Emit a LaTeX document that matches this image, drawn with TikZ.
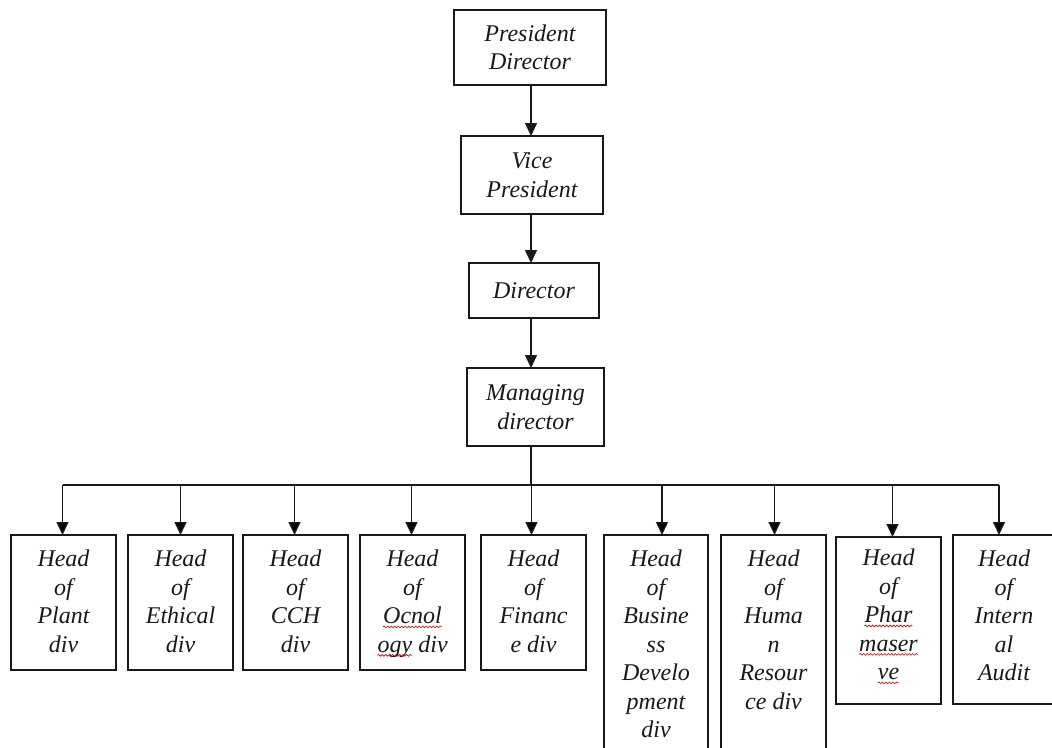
\documentclass[tikz,border=0pt]{standalone}
\usepackage{fontspec}
\setmainfont{Liberation Serif}
\usetikzlibrary{arrows.meta,calc,decorations.pathmorphing}
\newcommand\spellwave[1]{\tikz[baseline=(w.base),x=1pt,y=1pt]{\node[inner sep=0pt,outer sep=0pt,anchor=base] (w) {#1};\draw[red!80!black, line width=0.6pt, decorate, decoration={snake, amplitude=0.9pt, segment length=3.5pt}] ([yshift=-3pt]w.base west) -- ([yshift=-3pt]w.base east);}}
\begin{document}
\begin{tikzpicture}[x=1pt,y=-1pt,
  box/.style={draw=black!90, line width=1.4pt, inner sep=0pt, outer sep=0pt, anchor=north west},
  lbl/.style={font=\fontsize{24}{28.5}\selectfont\itshape, align=center, inner sep=0pt, text=black!90},
  txt/.style={lbl, anchor=north},
  conn/.style={line width=1.4pt, draw=black!90},
  arr/.style={conn, -{Triangle[length=13pt,width=12pt]}}]
\useasboundingbox (0,0) rectangle (1052,747);
\clip (0,0) rectangle (1052,747);
\fill[white] (0,0) rectangle (1052,747);
% top chain
\node[box, minimum width=152pt, minimum height=75pt, lbl] (pd) at (454,10) {President\\Director};
\node[box, minimum width=142pt, minimum height=78pt, lbl] (vp) at (461,136) {Vice\\President};
\node[box, minimum width=130pt, minimum height=55pt, lbl] (dir) at (469,263) {Director};
\node[box, minimum width=137pt, minimum height=78pt, lbl] (md) at (467,368) {Managing\\director};
\coordinate (spine) at (531,0);
\coordinate (bus) at (531,485);
\draw[arr] (pd.south -| spine) -- (vp.north -| spine);
\draw[arr] (vp.south -| spine) -- (dir.north -| spine);
\draw[arr] (dir.south -| spine) -- (md.north -| spine);
\draw[conn] (md.south -| spine) -- (bus);
% bottom boxes
\node[box, minimum width=105pt, minimum height=135pt] (h1) at (11,535) {};
\node[box, minimum width=105pt, minimum height=135pt] (h2) at (128,535) {};
\node[box, minimum width=105pt, minimum height=135pt] (h3) at (243,535) {};
\node[box, minimum width=105pt, minimum height=135pt] (h4) at (360,535) {};
\node[box, minimum width=105pt, minimum height=135pt] (h5) at (481,535) {};
\node[box, minimum width=104pt, minimum height=240pt] (h6) at (604,535) {};
\node[box, minimum width=105pt, minimum height=240pt] (h7) at (721,535) {};
\node[box, minimum width=105pt, minimum height=167pt] (h8) at (836,537) {};
\node[box, minimum width=102pt, minimum height=169pt] (h9) at (953,535) {};
% texts
\node[txt] (t1) at ($(h1.north)+(0,15)$) {Head\\of\\Plant\\div};
\node[txt] (t2) at ($(h2.north)+(0,15)$) {Head\\of\\Ethical\\div};
\node[txt] (t3) at ($(h3.north)+(0,15)$) {Head\\of\\CCH\\div};
\node[txt] (t4) at ($(h4.north)+(0,15)$) {Head\\of\\\spellwave{Ocnol}\\\spellwave{ogy} div};
\node[txt] (t5) at ($(h5.north)+(0,15)$) {Head\\of\\Financ\\e div};
\node[txt] (t6) at ($(h6.north)+(0,15)$) {Head\\of\\Busine\\ss\\Develo\\pment\\div};
\node[txt] (t7) at ($(h7.north)+(0,15)$) {Head\\of\\Huma\\n\\Resour\\ce div};
\node[txt] (t8) at ($(h8.north)+(0,12)$) {Head\\of\\\spellwave{Phar}\\\spellwave{maser}\\\spellwave{ve}};
\node[txt] (t9) at ($(h9.north)+(0,15)$) {Head\\of\\Intern\\al\\Audit};
% bus and arrows
\draw[conn] ([xshift=-1pt]h1.north |- bus) -- ([xshift=-5pt]h9.north |- bus);
\draw[arr] ([xshift=-1pt]h1.north |- bus) -- ([xshift=-1pt]h1.north);
\draw[arr] (h2.north |- bus) -- (h2.north);
\draw[arr] ([xshift=-1pt]h3.north |- bus) -- ([xshift=-1pt]h3.north);
\draw[arr] ([xshift=-1pt]h4.north |- bus) -- ([xshift=-1pt]h4.north);
\draw[arr] ([xshift=-2pt]h5.north |- bus) -- ([xshift=-2pt]h5.north);
\draw[arr] ([xshift=6pt]h6.north |- bus) -- ([xshift=6pt]h6.north);
\draw[arr] ([xshift=1pt]h7.north |- bus) -- ([xshift=1pt]h7.north);
\draw[arr] ([xshift=4pt]h8.north |- bus) -- ([xshift=4pt]h8.north);
\draw[arr] ([xshift=-5pt]h9.north |- bus) -- ([xshift=-5pt]h9.north);
\end{tikzpicture}
\end{document}
